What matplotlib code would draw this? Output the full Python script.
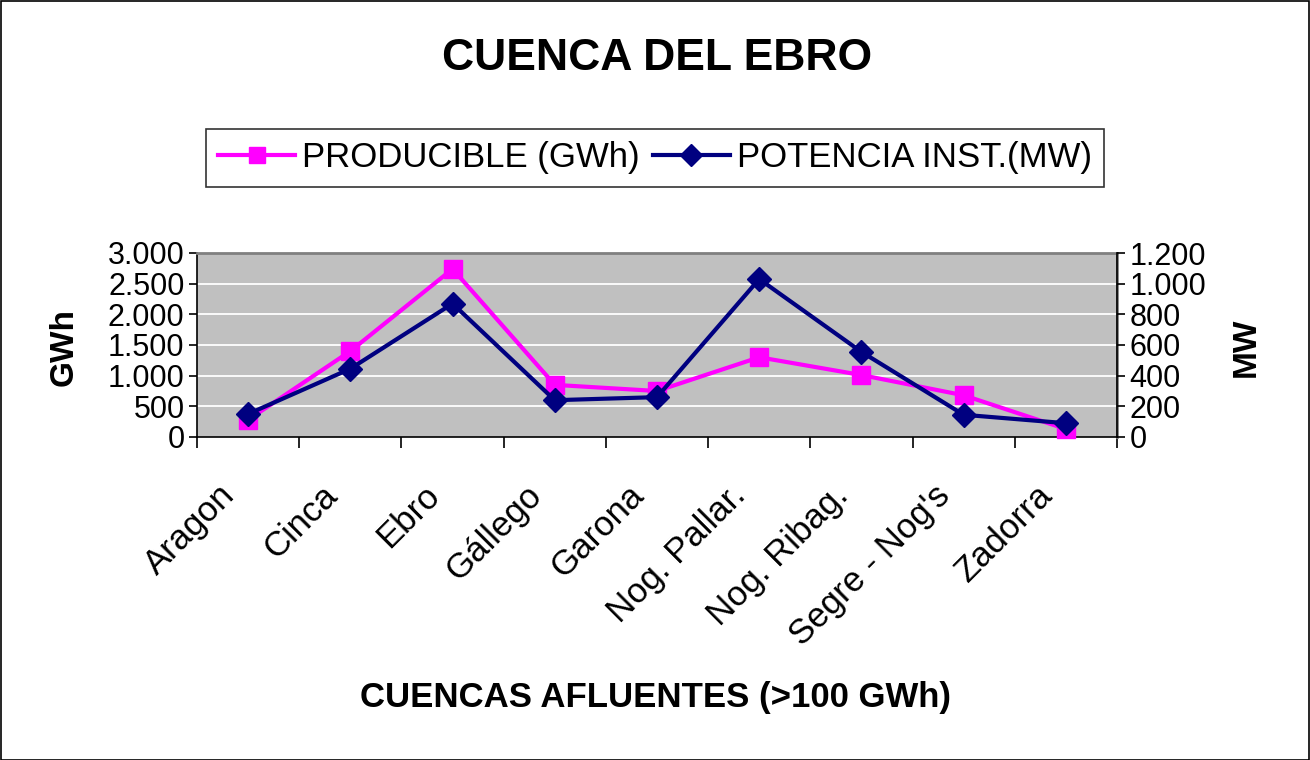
import matplotlib
matplotlib.use("Agg")
import matplotlib.pyplot as plt
import matplotlib.transforms as mtransforms
from matplotlib.lines import Line2D
from matplotlib.patches import Rectangle

categories = ["Aragon", "Cinca", "Ebro", "Gállego", "Garona", "Nog. Pallar.",
              "Nog. Ribag.", "Segre - Nog's", "Zadorra"]
producible_gwh = [280, 1400, 2740, 850, 750, 1300, 1010, 680, 130]
potencia_mw = [150, 445, 870, 240, 260, 1030, 555, 145, 90]
left_ticks = [0, 500, 1000, 1500, 2000, 2500, 3000]
right_ticks = [0, 200, 400, 600, 800, 1000, 1200]

plt.rcParams['font.family'] = ['Liberation Sans', 'DejaVu Sans']

W, H = 1310, 760
fig = plt.figure(figsize=(W / 100, H / 100), dpi=100)

def fx(px):
    return px / W

def fy(py):
    return 1 - py / H

# Outer border
fig.patches.append(Rectangle((0.5 / W, 0.5 / H), 1 - 1.5 / W, 1 - 1.5 / H,
                             transform=fig.transFigure, fill=False,
                             edgecolor='black', linewidth=1.2))

x0, x1, y0, y1 = 197, 1117, 253, 437
ax = fig.add_axes([fx(x0), fy(y1), fx(x1 - x0), (y1 - y0) / H])
ax.set_facecolor('#C0C0C0')
xs = list(range(len(categories)))
ax.set_xlim(-0.5, len(categories) - 0.5)
ax.set_ylim(0, 3000)
ax.set_yticks(left_ticks)
ax.set_yticklabels([f"{v:,}".replace(",", ".") for v in left_ticks], fontsize=22)
for v in left_ticks[1:-1]:
    ax.axhline(v, color='white', linewidth=1.3, zorder=1)

ax.plot(xs, producible_gwh, color='#FF00FF', linewidth=3, marker='s',
        markersize=13, zorder=3, clip_on=False)

ax.set_xticks([i - 0.5 for i in range(len(categories) + 1)])
ax.set_xticklabels([])
ax.set_xticks(xs, minor=True)
ax.set_xticklabels(categories, minor=True, rotation=45, ha='right',
                   va='top', rotation_mode='anchor', fontsize=25)
ax.tick_params(axis='x', which='minor', length=0, pad=30)
ax.tick_params(axis='x', which='major', length=8, width=1.2, direction='out')
ax.tick_params(axis='y', length=6, width=1.2, direction='out', pad=3)
shift = mtransforms.ScaledTranslation(-30 / 100, 0, fig.dpi_scale_trans)
for lbl in ax.get_xticklabels(minor=True):
    lbl.set_transform(lbl.get_transform() + shift)

for side in ['top', 'right']:
    ax.spines[side].set_color('#808080')
    ax.spines[side].set_linewidth(2)
for side in ['left', 'bottom']:
    ax.spines[side].set_color('black')
    ax.spines[side].set_linewidth(1.2)

ax2 = ax.twinx()
ax2.set_ylim(0, 1200)
ax2.set_yticks(right_ticks)
ax2.set_yticklabels([f"{v:,}".replace(",", ".") for v in right_ticks], fontsize=22)
ax2.tick_params(axis='y', length=6, width=1.2, direction='out', pad=3)
ax2.plot(xs, potencia_mw, color='#000080', linewidth=3, marker='D',
         markersize=12, zorder=4, clip_on=False)
ax2.spines['right'].set_color('black')
ax2.spines['right'].set_linewidth(1.2)
ax2.spines['top'].set_visible(False)
ax2.spines['left'].set_visible(False)
ax2.spines['bottom'].set_visible(False)

fig.text(fx(657), fy(58), "CUENCA DEL EBRO", ha='center', va='center',
         fontsize=32, fontweight='bold')
fig.text(fx(64), fy(347), "GWh", ha='center', va='center', rotation=90,
         fontsize=24, fontweight='bold')
fig.text(fx(1246), fy(347), "MW", ha='center', va='center', rotation=90,
         fontsize=24, fontweight='bold')
fig.text(fx(656), fy(697), "CUENCAS AFLUENTES (>100 GWh)", ha='center',
         va='center', fontsize=25, fontweight='bold')

handles = [
    Line2D([], [], color='#FF00FF', linewidth=3, marker='s', markersize=12),
    Line2D([], [], color='#000080', linewidth=3, marker='D', markersize=11),
]
leg = fig.legend(handles, ["PRODUCIBLE (GWh)", "POTENCIA INST.(MW)"],
                 loc='center', bbox_to_anchor=(fx(655), fy(158)), ncol=2,
                 fontsize=25, frameon=True, fancybox=False, edgecolor='black',
                 handlelength=2.2, handletextpad=0.2, columnspacing=0.4,
                 borderpad=0.35)
leg.get_frame().set_linewidth(1.2)

fig.savefig("out.png", dpi=100)
